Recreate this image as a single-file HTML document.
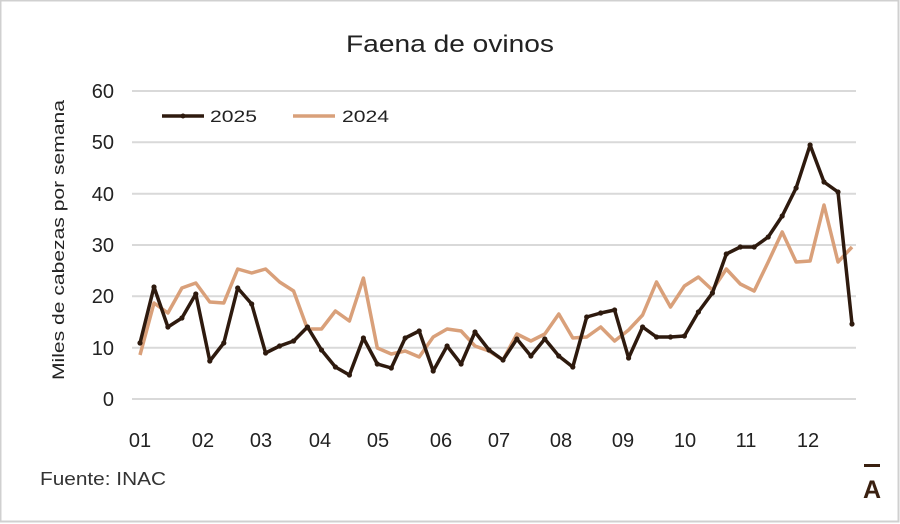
<!DOCTYPE html>
<html><head><meta charset="utf-8"><style>
html,body{margin:0;padding:0;background:#fff}
svg{display:block}
text{font-family:"Liberation Sans",sans-serif}
</style></head><body>
<svg id="s" width="900" height="524" viewBox="0 0 900 524" xmlns="http://www.w3.org/2000/svg">
<rect x="0.5" y="0.5" width="898" height="521" fill="#fff" stroke="#d0d0d0" stroke-width="2"/>
<g stroke="#d9d9d9" stroke-width="2">
<line x1="132" x2="856" y1="91" y2="91"/><line x1="132" x2="856" y1="142.3" y2="142.3"/>
<line x1="132" x2="856" y1="193.7" y2="193.7"/><line x1="132" x2="856" y1="245" y2="245"/>
<line x1="132" x2="856" y1="296.3" y2="296.3"/><line x1="132" x2="856" y1="347.7" y2="347.7"/>
<line x1="132" x2="856" y1="399" y2="399"/>
</g>
<text x="450" y="52" text-anchor="middle" font-size="24" fill="#222" textLength="208" lengthAdjust="spacingAndGlyphs">Faena de ovinos</text>
<g font-size="20" fill="#222" text-anchor="end">
<text x="114" y="98">60</text><text x="114" y="149">50</text><text x="114" y="201">40</text>
<text x="114" y="252">30</text><text x="114" y="303">20</text><text x="114" y="355">10</text><text x="114" y="406">0</text>
</g>
<g font-size="20" fill="#222" text-anchor="middle">
<text x="140" y="447">01</text><text x="203" y="447">02</text><text x="261" y="447">03</text><text x="320" y="447">04</text>
<text x="378" y="447">05</text><text x="441" y="447">06</text><text x="499" y="447">07</text><text x="561" y="447">08</text>
<text x="623" y="447">09</text><text x="685" y="447">10</text><text x="746" y="447">11</text><text x="808" y="447">12</text>
</g>
<text transform="translate(64,240) rotate(-90)" text-anchor="middle" font-size="17" fill="#222" textLength="280" lengthAdjust="spacingAndGlyphs">Miles de cabezas por semana</text>
<line x1="162" x2="204" y1="116" y2="116" stroke="#2e1a0e" stroke-width="3.5"/>
<circle cx="183" cy="116" r="2.5" fill="#2e1a0e"/>
<text x="210" y="122" font-size="17" fill="#222" textLength="47" lengthAdjust="spacingAndGlyphs">2025</text>
<line x1="293" x2="335" y1="116" y2="116" stroke="#d9a07a" stroke-width="3.5"/>
<text x="342" y="122" font-size="17" fill="#222" textLength="47" lengthAdjust="spacingAndGlyphs">2024</text>
<polyline id="p24" fill="none" stroke="#d9a07a" stroke-width="3.5" stroke-linejoin="round"/>
<polyline id="p25" fill="none" stroke="#2e1a0e" stroke-width="3.5" stroke-linejoin="round"/>
<g id="dots" fill="#2e1a0e"></g>
<text x="40" y="485" font-size="18" fill="#333" textLength="126" lengthAdjust="spacingAndGlyphs">Fuente: INAC</text>
<text x="872" y="498" text-anchor="middle" font-size="25" font-weight="bold" fill="#3a2010">A</text>
<rect x="864" y="464" width="16" height="3" fill="#3a2010"/>
</svg>
<script>
var a24=[355,303,313,288,283,302,303,269,273,269,282,291,329,329,311,321,278,348,354,351,357,337,329,331,346,351,360,334,341,334,314,338,337,327,341,330,315,282,307,286,277,290,269,284,291,262,232,262,261,205,262,247];
var a25=[343,287,327,318,294,361,343,288,304,353,346,341,327,350,367,375,338,364,368,338,331,371,346,364,332,350,360,339,356,339,356,367,317,313,310,358,327,337,337,336,312,293,254,247,247,237,216,188,145,182,192,324];
function pts(a){return a.map(function(y,i){return (140+i*13.96).toFixed(1)+","+y}).join(" ");}
document.getElementById("p24").setAttribute("points",pts(a24));
document.getElementById("p25").setAttribute("points",pts(a25));
var g=document.getElementById("dots"),h="";
a25.forEach(function(y,i){h+='<circle cx="'+(140+i*13.96).toFixed(1)+'" cy="'+y+'" r="2.6"/>';});
g.innerHTML=h;
</script>
</body></html>
